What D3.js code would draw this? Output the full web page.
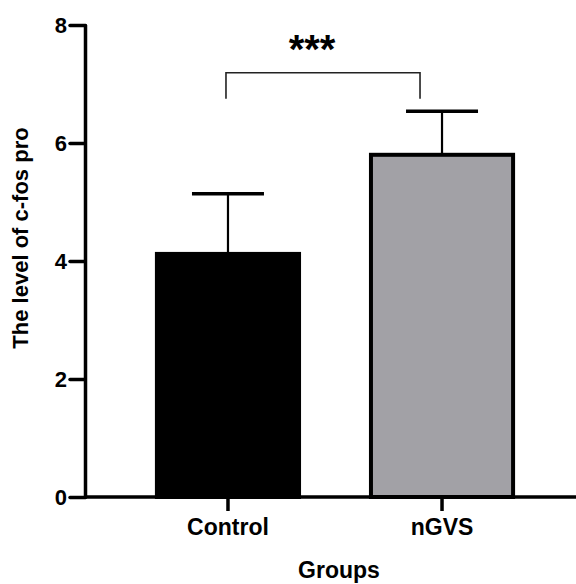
<!DOCTYPE html>
<html>
<head>
<meta charset="utf-8">
<script src="https://cdn.jsdelivr.net/npm/d3@7"></script>
<style>
  body { margin: 0; background: #fff; }
  svg { display: block; font-family: "Liberation Sans", Arial, sans-serif; }
</style>
</head>
<body>
<svg id="chart" width="576" height="584"></svg>
<script>
// Chart data
const groups = ["Control", "nGVS"];
const means = [4.12, 5.8];
const errors = [1.02, 0.74];
const fills = ["#000000", "#a2a1a6"];
const yTicks = [0, 2, 4, 6, 8];

// Significance bracket (value units)
const bracketTop = 7.19;
const bracketLeg = 6.75;
const starLabel = "***";

const svg = d3.select("#chart");
const FONT = "Liberation Sans, Arial, sans-serif";

// Scales
const y = d3.scaleLinear()
    .domain([0, 8])
    .range([497, 25]);

const x = d3.scaleBand()
    .domain(groups)
    .range([85, 585])
    .paddingInner(0.336)
    .paddingOuter(0.336);

// Bars
svg.selectAll(".bar")
    .data(groups)
    .join("rect")
    .attr("class", "bar")
    .attr("x", d => x(d))
    .attr("width", x.bandwidth())
    .attr("y", (d, i) => y(means[i]))
    .attr("height", (d, i) => y(0) - y(means[i]))
    .attr("fill", (d, i) => fills[i])
    .attr("stroke", "#000")
    .attr("stroke-width", 4);

// Error bars
const capHalf = 36;
groups.forEach((g, i) => {
    const cx = x(g) + x.bandwidth() / 2;
    svg.append("line")
        .attr("x1", cx).attr("x2", cx)
        .attr("y1", y(means[i])).attr("y2", y(means[i] + errors[i]))
        .attr("stroke", "#000").attr("stroke-width", 2.2);
    svg.append("line")
        .attr("x1", cx - capHalf).attr("x2", cx + capHalf)
        .attr("y1", y(means[i] + errors[i])).attr("y2", y(means[i] + errors[i]))
        .attr("stroke", "#000").attr("stroke-width", 3.5);
});

// Y axis
const yAxis = svg.append("g")
    .attr("transform", "translate(85,0)")
    .call(d3.axisLeft(y).tickValues(yTicks).tickSize(15).tickSizeOuter(0).tickPadding(3));
yAxis.select(".domain").attr("stroke-width", 3.5).attr("stroke-linecap", "round");
yAxis.selectAll(".tick line").attr("stroke-width", 3.5).attr("stroke-linecap", "round");
yAxis.selectAll(".tick text")
    .attr("font-size", 22).attr("font-weight", "bold").attr("fill", "#000")
    .attr("font-family", FONT);

// X axis
const xAxis = svg.append("g")
    .attr("transform", `translate(0,${y(0)})`)
    .call(d3.axisBottom(x).tickSize(14).tickSizeOuter(0).tickPadding(8));
xAxis.select(".domain").attr("d", "M85,0H576").attr("stroke-width", 3.5);
xAxis.selectAll(".tick line").attr("stroke-width", 3.5);
xAxis.selectAll(".tick text")
    .attr("font-size", 23).attr("font-weight", "bold").attr("fill", "#000")
    .attr("font-family", FONT);

// Significance bracket
const bx1 = x(groups[0]) + x.bandwidth() / 2 - 2;
const bx2 = x(groups[1]) + x.bandwidth() / 2 - 22;
svg.append("path")
    .attr("d", `M${bx1},${y(bracketLeg)}V${y(bracketTop)}H${bx2}V${y(bracketLeg)}`)
    .attr("fill", "none")
    .attr("stroke", "#222")
    .attr("stroke-width", 1.6);
svg.append("text")
    .attr("x", (bx1 + bx2) / 2 - 11)
    .attr("y", 63)
    .attr("text-anchor", "middle")
    .attr("font-size", 40)
    .attr("font-weight", "bold")
    .text(starLabel);

// Axis titles
svg.append("text")
    .attr("x", 339)
    .attr("y", 578)
    .attr("text-anchor", "middle")
    .attr("font-size", 23)
    .attr("font-weight", "bold")
    .text("Groups");

svg.append("text")
    .attr("transform", "translate(28,238) rotate(-90)")
    .attr("text-anchor", "middle")
    .attr("font-size", 22)
    .attr("font-weight", "bold")
    .text("The level of c-fos pro");
</script>
</body>
</html>
